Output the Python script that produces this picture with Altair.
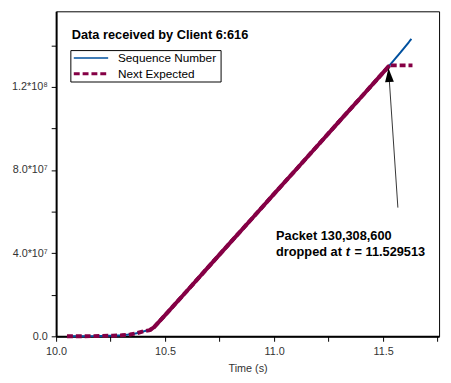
import altair as alt
import pandas as pd

# ---- data ----
seq_time = [10.05, 10.17, 10.21, 10.26, 10.30, 10.34, 10.37, 10.405, 10.43, 10.45,
            10.50, 10.60, 10.70, 10.80, 10.90, 11.00, 11.10, 11.20, 11.30, 11.40,
            11.50, 11.53, 11.58, 11.63]
seq_value = [0, 0.1e6, 0.2e6, 0.3e6, 0.5e6, 0.9e6, 1.5e6, 2.5e6, 3.0e6, 4.5e6,
             1.02e7, 2.18e7, 3.35e7, 4.52e7, 5.68e7, 6.85e7, 8.01e7, 9.18e7, 1.035e8, 1.151e8,
             1.268e8, 1.303e8, 1.365e8, 1.43e8]

next_time = [10.05, 10.17, 10.21, 10.26, 10.30, 10.34, 10.37, 10.405, 10.43, 10.45,
             10.50, 10.60, 10.70, 10.80, 10.90, 11.00, 11.10, 11.20, 11.30, 11.40,
             11.50, 11.53, 11.56, 11.60, 11.635]
next_value = [0, 0.1e6, 0.2e6, 0.3e6, 0.5e6, 0.9e6, 1.5e6, 2.5e6, 3.0e6, 4.5e6,
              1.02e7, 2.18e7, 3.35e7, 4.52e7, 5.68e7, 6.85e7, 8.01e7, 9.18e7, 1.035e8, 1.151e8,
              1.268e8, 1.303e8, 1.303e8, 1.303e8, 1.303e8]

series_names = ["Sequence Number", "Next Expected"]
series_colors = ["#00509e", "#850045"]

x_ticks = [10.0, 10.25, 10.5, 10.75, 11.0, 11.25, 11.5, 11.75]
y_ticks = [0, 2e7, 4e7, 6e7, 8e7, 1e8, 1.2e8, 1.4e8]

title_text = "Data received by Client 6:616"
arrow_tail = [11.568, 6.19e7]
arrow_tip = [11.525, 1.289e8]
note_time = 11.009
note_line1 = "Packet 130,308,600"
note_line2 = ["dropped at", "t", "= 11.529513"]
note_values = [4.84e7, 4.04e7]

# ---- tables ----
df = pd.concat([
    pd.DataFrame({"series": series_names[0], "time": seq_time, "value": seq_value, "order": range(len(seq_time))}),
    pd.DataFrame({"series": series_names[1], "time": next_time, "value": next_value, "order": range(len(next_time))}),
])
df_solid = df[(df.series == series_names[1]) & (df.time >= 10.43) & (df.time <= 11.53)]

xscale = alt.Scale(domain=[10.0, 11.757], nice=False, zero=False)
yscale = alt.Scale(domain=[0, 1.563e8], nice=False)

xaxis = alt.Axis(values=x_ticks, title="Time (s)", labelFlush=False,
                 labelExpr="(round(datum.value*2) == datum.value*2) ? format(datum.value, '.1f') : ''")
yaxis = alt.Axis(values=y_ticks, title=None, labelFlush=False,
                 labelExpr="datum.value == 0 ? '0.0' : datum.value == 4e7 ? '4.0*10⁷' : "
                           "datum.value == 8e7 ? '8.0*10⁷' : datum.value == 1.2e8 ? '1.2*10⁸' : ''")

lines = alt.Chart(df).mark_line().encode(
    x=alt.X("time:Q", scale=xscale, axis=xaxis),
    y=alt.Y("value:Q", scale=yscale, axis=yaxis),
    order="order:Q",
    color=alt.Color("series:N", scale=alt.Scale(domain=series_names, range=series_colors), legend=None),
    strokeDash=alt.StrokeDash("series:N", scale=alt.Scale(domain=series_names, range=[[1, 0], [6, 3]]), legend=None),
    strokeWidth=alt.StrokeWidth("series:N", scale=alt.Scale(domain=series_names, range=[2, 4]), legend=None),
)

solid = alt.Chart(df_solid).mark_line(color=series_colors[1], strokeWidth=4).encode(
    x="time:Q", y="value:Q", order="order:Q"
)

arrow_df = pd.DataFrame({"t1": [arrow_tail[0]], "v1": [arrow_tail[1]], "t2": [arrow_tip[0]], "v2": [arrow_tip[1]]})
rule = alt.Chart(arrow_df).mark_rule(color="#333333", strokeWidth=1).encode(
    x="t1:Q", y="v1:Q", x2="t2:Q", y2="v2:Q"
)
head = alt.Chart(arrow_df).mark_point(
    shape="M0,0L0.64,2L-0.64,2Z", filled=True, color="black", opacity=1, size=196, angle=356
).encode(x="t2:Q", y="v2:Q")

one = pd.DataFrame({"k": [0]})

title = alt.Chart(pd.DataFrame({"text": [title_text]})).mark_text(
    align="left", baseline="middle", fontSize=13, fontWeight="bold", color="black"
).encode(x=alt.value(16), y=alt.value(24), text="text:N")

# legend box (drawn inside the plot, like the reference)
leg_box = alt.Chart(one).mark_rect(fill="white", stroke="black", strokeWidth=1).encode(
    x=alt.value(15), x2=alt.value(168), y=alt.value(40), y2=alt.value(72)
)
leg_line1 = alt.Chart(one).mark_rule(color=series_colors[0], strokeWidth=1.6).encode(
    x=alt.value(18), x2=alt.value(53), y=alt.value(47.5)
)
leg_line2 = alt.Chart(one).mark_rule(color=series_colors[1], strokeWidth=3, strokeDash=[6, 3]).encode(
    x=alt.value(18), x2=alt.value(53), y=alt.value(63.5)
)
leg_df = pd.DataFrame({"a": [series_names[0]], "b": [series_names[1]]})
leg_text1 = alt.Chart(leg_df).mark_text(align="left", baseline="middle", fontSize=12, color="black").encode(
    x=alt.value(63), y=alt.value(47.5), text="a:N")
leg_text2 = alt.Chart(leg_df).mark_text(align="left", baseline="middle", fontSize=12, color="black").encode(
    x=alt.value(63), y=alt.value(63.5), text="b:N")

note_df = pd.DataFrame({"t": [note_time], "v1": [note_values[0]], "v2": [note_values[1]],
                        "l1": [note_line1], "a": [note_line2[0]], "b": [note_line2[1]], "c": [note_line2[2]]})
note1 = alt.Chart(note_df).mark_text(align="left", baseline="middle", fontSize=13, fontWeight="bold",
                                     color="black").encode(x="t:Q", y="v1:Q", text="l1:N")
note2a = alt.Chart(note_df).mark_text(align="left", baseline="middle", fontSize=13, fontWeight="bold",
                                      color="black").encode(x="t:Q", y="v2:Q", text="a:N")
note2b = alt.Chart(note_df).mark_text(align="left", baseline="middle", fontSize=13, fontWeight="bold",
                                      fontStyle="italic", color="black", dx=71).encode(x="t:Q", y="v2:Q", text="b:N")
note2c = alt.Chart(note_df).mark_text(align="left", baseline="middle", fontSize=13, fontWeight="bold",
                                      color="black", dx=80).encode(x="t:Q", y="v2:Q", text="c:N")

chart = alt.layer(lines, solid, rule, head, title, leg_box, leg_line1, leg_line2, leg_text1, leg_text2,
                  note1, note2a, note2b, note2c).properties(
    width=390, height=331,
    autosize=alt.AutoSizeParams(type="none"),
    padding={"left": 49, "top": 0, "right": 4, "bottom": 36},
).configure(font="Liberation Sans").configure_view(
    stroke="black", strokeWidth=1
).configure_axis(
    grid=False, domainColor="black", domainWidth=2, tickColor="black", tickSize=5,
    labelColor="#333333", labelFontSize=11, labelPadding=4,
    titleColor="#333333", titleFontSize=11, titleFontWeight="normal", titlePadding=7,
)

chart.save("out.html", embed_options={"renderer": "svg", "actions": False})
